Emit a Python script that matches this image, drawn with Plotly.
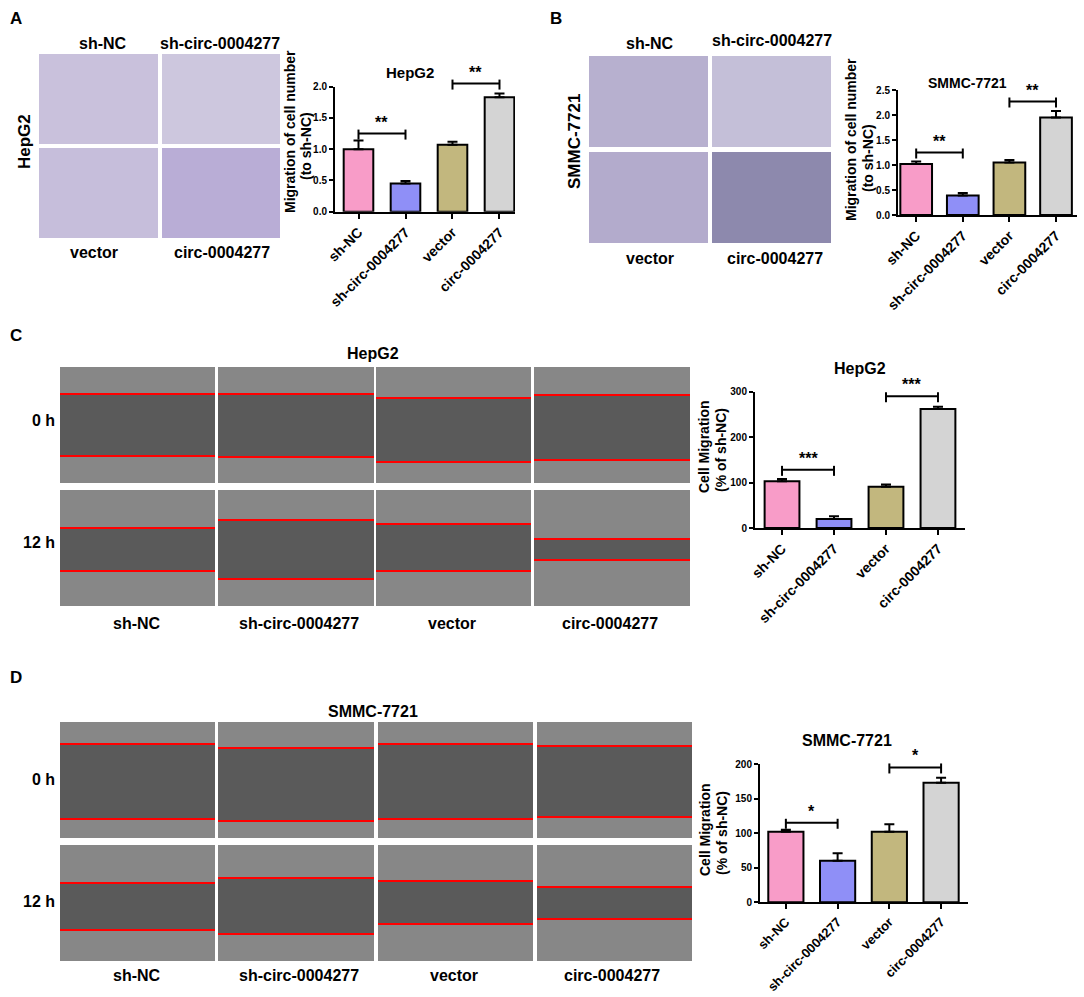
import plotly.graph_objects as go

W, H = 1084, 997

# ---------------- data ----------------
groups = ["sh-NC", "sh-circ-0004277", "vector", "circ-0004277"]
bar_colors = ["#F89CC8", "#8F8FF7", "#C2B77E", "#D4D4D4"]

a_vals = [1.00, 0.45, 1.07, 1.83]
a_err = [0.14, 0.04, 0.05, 0.06]
b_vals = [1.02, 0.39, 1.05, 1.95]
b_err = [0.05, 0.05, 0.05, 0.13]
c_vals = [103, 20, 91, 262]
c_err = [5, 6, 5, 5]
d_vals = [102, 60, 102, 173]
d_err = [3, 11, 11, 7]

a_sig_pairs = [(0, 1), (2, 3)]
a_sig_levels = [1.25, 2.05]
a_sig_labels = ["**", "**"]
b_sig_pairs = [(0, 1), (2, 3)]
b_sig_levels = [1.25, 2.27]
b_sig_labels = ["**", "**"]
c_sig_pairs = [(0, 1), (2, 3)]
c_sig_levels = [128, 290]
c_sig_labels = ["***", "***"]
d_sig_pairs = [(0, 1), (2, 3)]
d_sig_levels = [115, 195]
d_sig_labels = ["*", "*"]

ytitle_ratio = ["Migration of cell number", "(to sh-NC)"]
ytitle_pct = ["Cell Migration", "(% of sh-NC)"]

transwell_top = ["sh-NC", "sh-circ-0004277"]
transwell_bottom = ["vector", "circ-0004277"]
time_points = ["0 h", "12 h"]

# wound edges (fraction of image height) for each group, [top edge, bottom edge]
c_edges_0h = [[0.233, 0.767], [0.233, 0.776], [0.267, 0.819], [0.241, 0.802]]
c_edges_12h = [[0.328, 0.698], [0.259, 0.767], [0.293, 0.698], [0.422, 0.603]]
d_edges_0h = [[0.190, 0.836], [0.224, 0.853], [0.190, 0.836], [0.207, 0.819]]
d_edges_12h = [[0.328, 0.733], [0.284, 0.767], [0.310, 0.681], [0.362, 0.638]]

FONT = "Liberation Sans, Arial, Helvetica, sans-serif"


def px(x):
    return x / W


def py(y):
    return 1 - y / H


fig = go.Figure()
shapes = []
annotations = []


def text(x, y, s, size=16, angle=0, xanchor="center", yanchor="middle"):
    annotations.append(dict(
        x=px(x), y=py(y), xref="paper", yref="paper", text=s, showarrow=False,
        textangle=angle, xanchor=xanchor, yanchor=yanchor,
        font=dict(family=FONT, size=size, color="black", weight="bold")))


charts = [
    dict(vals=a_vals, err=a_err, pairs=a_sig_pairs, levels=a_sig_levels, labels=a_sig_labels,
         left=335, right=515, ybot=211.7, ytop=86.7, xr=[-0.5, 3.33], yr=[0, 2.0], dtick=0.5,
         fmt=".1f", title="HepG2", tx=410, ty=72, tsize=15, bw=0.63, ytsize=10, xtsize=14,
         ytitle=ytitle_ratio, ttpos=[(290, 132), (306, 146)], ttsize=14),
    dict(vals=b_vals, err=b_err, pairs=b_sig_pairs, levels=b_sig_levels, labels=b_sig_labels,
         left=898, right=1077, ybot=215, ytop=90, xr=[-0.39, 3.45], yr=[0, 2.5], dtick=0.5,
         fmt=".1f", title="SMMC-7721", tx=967, ty=83, tsize=14, bw=0.68, ytsize=10, xtsize=14,
         ytitle=ytitle_ratio, ttpos=[(851, 140), (868, 158)], ttsize=14),
    dict(vals=c_vals, err=c_err, pairs=c_sig_pairs, levels=c_sig_levels, labels=c_sig_labels,
         left=755, right=965, ybot=528, ytop=391.7, xr=[-0.52, 3.52], yr=[0, 300], dtick=100,
         fmt="d", title="HepG2", tx=860, ty=368, tsize=16, bw=0.67, ytsize=10, xtsize=14,
         ytitle=ytitle_pct, ttpos=[(704, 447), (721, 450)], ttsize=14),
    dict(vals=d_vals, err=d_err, pairs=d_sig_pairs, levels=d_sig_levels, labels=d_sig_labels,
         left=760, right=968, ybot=902.3, ytop=764, xr=[-0.5, 3.52], yr=[0, 200], dtick=50,
         fmt="d", title="SMMC-7721", tx=847, ty=740, tsize=16, bw=0.68, ytsize=10, xtsize=13,
         ytitle=ytitle_pct, ttpos=[(705, 830), (722, 833)], ttsize=14),
]

layout_axes = {}
for k, c in enumerate(charts):
    n = "" if k == 0 else str(k + 1)
    fig.add_trace(go.Bar(
        x=list(range(len(groups))), y=c["vals"], width=c["bw"],
        marker=dict(color=bar_colors, line=dict(color="black", width=2)),
        error_y=dict(type="data", symmetric=False, array=c["err"], arrayminus=[0] * 4,
                     color="black", thickness=2, width=5),
        xaxis="x" + n, yaxis="y" + n, showlegend=False, hoverinfo="skip"))
    layout_axes["xaxis" + n] = dict(
        domain=[px(c["left"]), px(c["right"])], range=c["xr"], anchor="y" + n,
        automargin=False,
        tickmode="array", tickvals=list(range(len(groups))), ticktext=groups,
        tickangle=-45, showline=True, linecolor="black", linewidth=2,
        ticks="outside", ticklen=5, tickwidth=2, tickcolor="black",
        showgrid=False, zeroline=False,
        tickfont=dict(family=FONT, size=c["xtsize"], color="black", weight="bold"))
    layout_axes["yaxis" + n] = dict(
        domain=[py(c["ybot"]), py(c["ytop"])], range=c["yr"], anchor="x" + n,
        automargin=False,
        dtick=c["dtick"], tickformat=c["fmt"], showline=True, linecolor="black",
        linewidth=2, ticks="outside", ticklen=4, tickwidth=2, tickcolor="black",
        showgrid=False, zeroline=False,
        tickfont=dict(family=FONT, size=c["ytsize"], color="black", weight="bold"))
    text(c["tx"], c["ty"], c["title"], size=c["tsize"])
    for line, (tx, ty) in zip(c["ytitle"], c["ttpos"]):
        text(tx, ty, line, size=c["ttsize"], angle=-90)

    # significance brackets, mapped from data to paper with the chart's own scale
    def xpix(i, c=c):
        return c["left"] + (i - c["xr"][0]) / (c["xr"][1] - c["xr"][0]) * (c["right"] - c["left"])

    def ypix(v, c=c):
        return c["ybot"] - (v - c["yr"][0]) / (c["yr"][1] - c["yr"][0]) * (c["ybot"] - c["ytop"])

    for (i, j), lev, lab in zip(c["pairs"], c["levels"], c["labels"]):
        x0, x1, yy = xpix(i), xpix(j), ypix(lev)
        shapes.append(dict(type="line", xref="paper", yref="paper", x0=px(x0), x1=px(x1),
                           y0=py(yy), y1=py(yy), line=dict(color="black", width=2)))
        for xx in (x0, x1):
            shapes.append(dict(type="line", xref="paper", yref="paper", x0=px(xx), x1=px(xx),
                               y0=py(yy - 4), y1=py(yy + 6), line=dict(color="black", width=2)))
        text((x0 + x1) / 2, yy - 1, lab, size=16, yanchor="bottom")

# ---------------- transwell image panels (A, B) ----------------
a_img_cols = [[39, 158], [162, 280]]
a_img_rows = [[54, 144], [148, 238]]
a_img_fill = [["#c9c1dc", "#cdc7de"], ["#c6bedb", "#b9add6"]]
b_img_cols = [[589, 708], [712, 831]]
b_img_rows = [[56, 147], [152, 243]]
b_img_fill = [["#b7b0cf", "#c4bfd8"], ["#b3abcc", "#8d89ad"]]

for cols, rows, fills in ((a_img_cols, a_img_rows, a_img_fill), (b_img_cols, b_img_rows, b_img_fill)):
    for r, (y0, y1) in enumerate(rows):
        for q, (x0, x1) in enumerate(cols):
            shapes.append(dict(type="rect", xref="paper", yref="paper", x0=px(x0), x1=px(x1),
                               y0=py(y1), y1=py(y0), fillcolor=fills[r][q], line=dict(width=0),
                               layer="below"))

text(8, 18, "A", size=17, xanchor="left")
text(548, 18, "B", size=17, xanchor="left")
text(25, 142, "HepG2", size=17, angle=-90)
text(575, 142, "SMMC-7721", size=17, angle=-90)
text(103, 43, transwell_top[0])
text(220, 43, transwell_top[1])
text(94, 253, transwell_bottom[0])
text(222, 253, transwell_bottom[1])
text(650, 43, transwell_top[0])
text(772, 41, transwell_top[1])
text(650, 259, transwell_bottom[0])
text(775, 259, transwell_bottom[1])

# ---------------- wound healing image panels (C, D) ----------------
c_img_cols = [[60, 215], [218, 374], [376, 531], [534, 690]]
c_img_rows = [[367, 483], [490, 606]]
d_img_cols = [[60, 215], [218, 374], [378, 533], [537, 692]]
d_img_rows = [[722, 838], [845, 961]]

for cols, rows, edges in ((c_img_cols, c_img_rows, (c_edges_0h, c_edges_12h)),
                          (d_img_cols, d_img_rows, (d_edges_0h, d_edges_12h))):
    for r, (y0, y1) in enumerate(rows):
        for q, (x0, x1) in enumerate(cols):
            e0, e1 = edges[r][q]
            ya = y0 + e0 * (y1 - y0)
            yb = y0 + e1 * (y1 - y0)
            shapes.append(dict(type="rect", xref="paper", yref="paper", x0=px(x0), x1=px(x1),
                               y0=py(y1), y1=py(y0), fillcolor="#878787", line=dict(width=0),
                               layer="below"))
            shapes.append(dict(type="rect", xref="paper", yref="paper", x0=px(x0), x1=px(x1),
                               y0=py(yb), y1=py(ya), fillcolor="#5a5a5a", line=dict(width=0),
                               layer="below"))
            for yy in (ya, yb):
                shapes.append(dict(type="line", xref="paper", yref="paper", x0=px(x0), x1=px(x1),
                                   y0=py(yy), y1=py(yy), line=dict(color="#ff0000", width=2)))

text(8, 335, "C", size=17, xanchor="left")
text(8, 677, "D", size=17, xanchor="left")
text(373, 353, "HepG2")
text(373, 711, "SMMC-7721")
text(57, 420, time_points[0], xanchor="right")
text(57, 542, time_points[1], xanchor="right")
text(57, 779, time_points[0], xanchor="right")
text(57, 901, time_points[1], xanchor="right")
for xx, g in zip([137, 299, 452, 610], groups):
    text(xx, 623, g)
for xx, g in zip([137, 299, 454, 612], groups):
    text(xx, 975, g)

fig.update_layout(
    width=W, height=H, margin=dict(l=0, r=0, t=0, b=0, autoexpand=False),
    paper_bgcolor="white", plot_bgcolor="rgba(0,0,0,0)",
    shapes=shapes, annotations=annotations, bargap=0.3,
    font=dict(family=FONT, color="black"), **layout_axes)

fig.write_html(
    "out.html", config={"displayModeBar": False},
    post_script="document.body.style.margin='0';document.body.style.overflow='hidden';")
